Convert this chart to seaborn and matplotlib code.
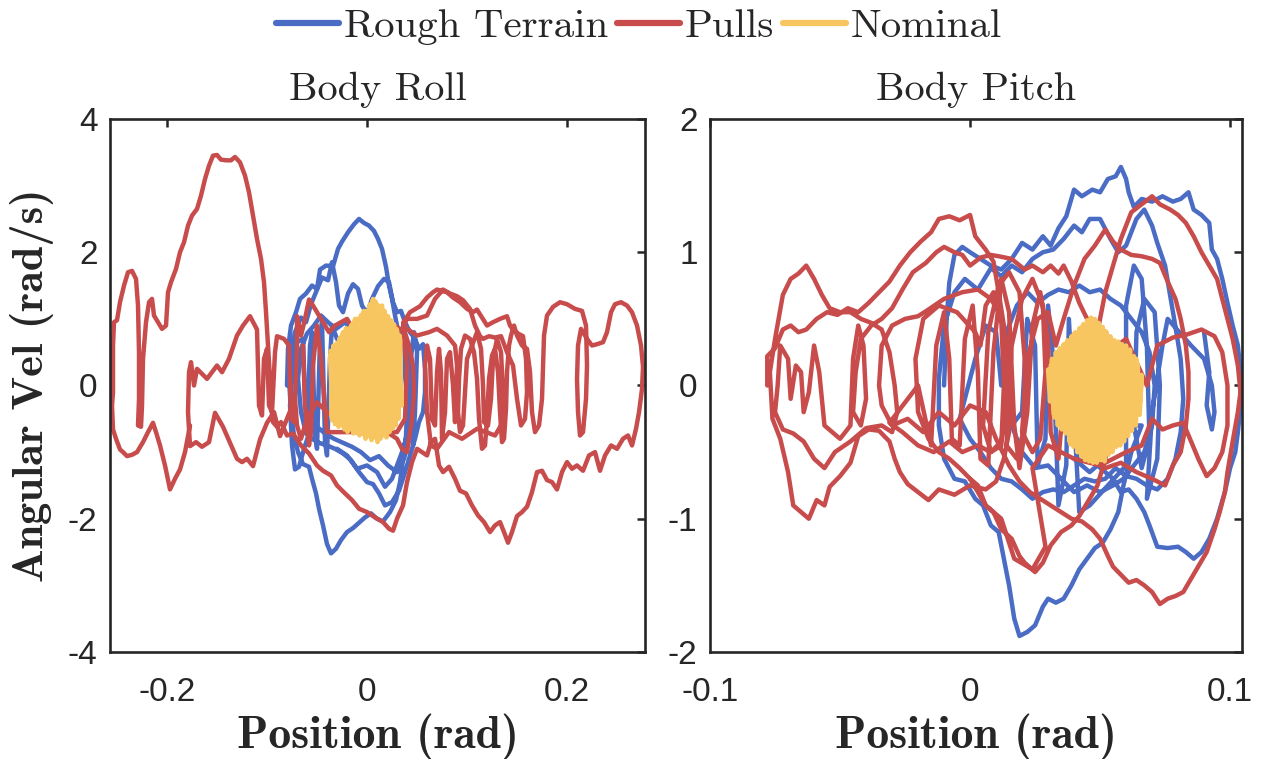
import matplotlib
matplotlib.use("Agg")
import pandas as pd
import matplotlib.pyplot as plt
import seaborn as sns
from matplotlib.lines import Line2D

SERIES = ["Rough Terrain", "Pulls", "Nominal"]
COLORS = ["#4a6cc4", "#c84c4c", "#f8c660"]

# ---- Body Roll: (position rad, angular vel rad/s) ----
roll_rough = [
    (-0.080, 0.00), (-0.079, 0.55), (-0.076, 0.90), (-0.071, 1.10), (-0.067, 1.30), (-0.061, 1.38),
    (-0.055, 1.50), (-0.050, 1.45), (-0.047, 1.74), (-0.041, 1.80), (-0.034, 1.79), (-0.029, 2.05),
    (-0.025, 2.16), (-0.019, 2.30), (-0.013, 2.42), (-0.008, 2.50), (-0.003, 2.44), (0.002, 2.40),
    (0.007, 2.32), (0.011, 2.20), (0.015, 2.05), (0.019, 1.78), (0.022, 1.50), (0.025, 1.30),
    (0.028, 1.05), (0.032, 0.75), (0.036, 0.40), (0.039, 0.00), (0.040, -0.40), (0.039, -0.75),
    (0.036, -1.10), (0.033, -1.45), (0.029, -1.72), (0.023, -1.90), (0.016, -2.04), (0.010, -2.00),
    (0.004, -1.92), (-0.002, -1.98), (-0.008, -2.06), (-0.014, -2.14), (-0.020, -2.20), (-0.026, -2.32),
    (-0.031, -2.45), (-0.036, -2.52), (-0.040, -2.38), (-0.044, -2.10), (-0.048, -1.85), (-0.051, -1.62),
    (-0.055, -1.40), (-0.058, -1.22), (-0.064, -1.18), (-0.069, -1.00), (-0.073, -0.75), (-0.076, -0.40),
    (-0.078, 0.10), (-0.076, 0.50), (-0.072, 0.80), (-0.066, 1.02), (-0.061, 0.95), (-0.056, 1.22),
    (-0.050, 1.44), (-0.045, 1.62), (-0.039, 1.58), (-0.035, 1.85), (-0.031, 1.55), (-0.028, 1.20),
    (-0.024, 1.10), (-0.019, 1.38), (-0.014, 1.52), (-0.009, 1.45), (-0.005, 1.20), (0.000, 1.08),
    (0.005, 1.30), (0.011, 1.49), (0.017, 1.60), (0.022, 1.55), (0.026, 1.25), (0.030, 1.10),
    (0.034, 1.12), (0.038, 0.95), (0.043, 0.80), (0.048, 0.70), (0.052, 0.55), (0.056, 0.62),
    (0.058, 0.25), (0.058, -0.10), (0.056, -0.40), (0.052, -0.55), (0.048, -0.80), (0.043, -1.05),
    (0.038, -1.30), (0.032, -1.58), (0.025, -1.75), (0.018, -1.80), (0.012, -1.62), (0.006, -1.48),
    (0.000, -1.45), (-0.008, -1.30), (-0.016, -1.12), (-0.024, -1.02), (-0.032, -0.95), (-0.040, -0.90),
    (-0.048, -0.86), (-0.055, -0.80), (-0.061, -0.72), (-0.066, -0.40), (-0.069, 0.10), (-0.066, 0.55),
    (-0.060, 0.78), (-0.053, 0.90), (-0.046, 1.05), (-0.039, 0.95), (-0.031, 0.85), (-0.022, 0.95),
    (-0.013, 0.80), (-0.004, 0.70), (0.006, 0.85), (0.016, 0.76), (0.026, 0.62), (0.035, 0.40),
    (0.042, 0.05), (0.045, -0.45), (0.042, -0.80), (0.037, -1.10), (0.030, -1.30), (0.021, -1.20),
    (0.012, -1.06), (0.003, -1.12), (-0.006, -1.00), (-0.015, -0.92), (-0.024, -0.86), (-0.033, -0.80),
    (-0.042, -0.72), (-0.050, -0.62), (-0.057, -0.68), (-0.063, -0.95), (-0.068, -1.22), (-0.072, -1.26),
    (-0.075, -0.90), (-0.077, -0.30), (-0.074, 0.30), (-0.070, 0.65), (-0.064, 0.70), (-0.062, -0.20),
    (-0.060, -0.70), (-0.057, 0.60), (-0.055, 0.80), (-0.052, -0.75), (-0.050, -0.95), (-0.047, 0.70),
    (-0.045, 0.95), (-0.042, -0.85), (-0.040, -1.05), (-0.037, 0.40), (-0.035, 0.90), (-0.030, 0.70),
    (0.034, 0.85), (0.040, 0.60), (0.044, -0.30), (0.046, -0.90), (0.048, -0.40), (0.050, 0.50),
    (0.047, 0.80), (0.043, 0.30), (0.041, -0.70), (0.035, -1.00), (0.025, -1.40), (0.018, -1.52),
    (0.010, -1.30), (0.000, -1.20), (-0.010, -1.25), (-0.020, -1.05), (-0.030, -0.95),
]

roll_pulls = [
    (-0.177, -0.60), (-0.182, -1.00), (-0.187, -1.26), (-0.192, -1.40), (-0.197, -1.56), (-0.202, -1.20),
    (-0.207, -0.90), (-0.211, -0.70), (-0.214, -0.56), (-0.219, -0.70), (-0.224, -0.85), (-0.230, -1.00),
    (-0.235, -1.04), (-0.240, -1.06), (-0.244, -1.00), (-0.247, -0.96), (-0.251, -0.80), (-0.254, -0.66),
    (-0.255, -0.30), (-0.254, -0.10), (-0.254, 0.60), (-0.253, 0.95), (-0.250, 0.98), (-0.247, 1.25),
    (-0.243, 1.50), (-0.239, 1.70), (-0.235, 1.72), (-0.231, 1.60), (-0.229, 1.20), (-0.228, 0.50),
    (-0.228, -0.20), (-0.229, -0.60), (-0.226, -0.62), (-0.225, -0.30), (-0.224, 0.40), (-0.221, 0.95),
    (-0.218, 1.25), (-0.215, 1.30), (-0.213, 1.05), (-0.209, 0.95), (-0.205, 0.85), (-0.201, 0.90),
    (-0.199, 1.40), (-0.196, 1.55), (-0.191, 1.75), (-0.187, 2.00), (-0.183, 2.15), (-0.179, 2.40),
    (-0.175, 2.55), (-0.170, 2.65), (-0.166, 2.85), (-0.162, 3.10), (-0.158, 3.30), (-0.154, 3.45),
    (-0.150, 3.46), (-0.146, 3.39), (-0.141, 3.38), (-0.136, 3.38), (-0.132, 3.43), (-0.127, 3.35),
    (-0.122, 3.15), (-0.118, 2.90), (-0.114, 2.55), (-0.110, 2.20), (-0.106, 1.90), (-0.103, 1.55),
    (-0.101, 1.10), (-0.099, 0.60), (-0.097, 0.10), (-0.096, -0.30), (-0.094, -0.55), (-0.090, -0.62),
    (-0.086, -0.55), (-0.080, -0.75), (-0.074, -0.72), (-0.066, -0.90), (-0.058, -1.02), (-0.050, -1.20),
    (-0.044, -1.28), (-0.036, -1.35), (-0.030, -1.50), (-0.022, -1.62), (-0.015, -1.72), (-0.008, -1.85),
    (0.000, -1.90), (0.008, -1.98), (0.016, -2.05), (0.022, -2.15), (0.026, -2.18), (0.030, -2.00),
    (0.036, -1.80), (0.040, -1.45), (0.045, -1.15), (0.050, -0.95), (0.055, -1.00), (0.060, -1.05),
    (0.064, -0.85), (0.068, -0.80), (0.072, -1.20), (0.076, -1.30), (0.082, -1.22), (0.088, -1.40),
    (0.093, -1.58), (0.099, -1.62), (0.105, -1.80), (0.111, -1.95), (0.117, -2.05), (0.123, -2.20),
    (0.128, -2.10), (0.133, -2.05), (0.137, -2.20), (0.141, -2.36), (0.145, -2.20), (0.150, -1.96),
    (0.155, -1.90), (0.160, -1.82), (0.165, -1.60), (0.170, -1.30), (0.175, -1.28), (0.180, -1.42),
    (0.185, -1.45), (0.190, -1.56), (0.195, -1.30), (0.200, -1.15), (0.205, -1.25), (0.210, -1.20),
    (0.216, -1.28), (0.222, -1.05), (0.228, -1.00), (0.233, -1.28), (0.238, -1.05), (0.244, -0.90),
    (0.250, -0.95), (0.256, -0.80), (0.261, -0.75), (0.265, -0.90), (0.269, -0.65), (0.272, -0.40),
    (0.275, -0.05), (0.276, 0.28), (0.274, 0.60), (0.270, 0.90), (0.265, 1.10), (0.260, 1.20),
    (0.254, 1.25), (0.248, 1.22), (0.244, 1.10), (0.240, 0.80), (0.236, 0.65), (0.230, 0.62),
    (0.225, 0.60), (0.220, 0.70), (0.214, 0.85), (0.211, 0.60), (0.210, 0.10), (0.211, -0.40),
    (0.213, -0.75), (0.216, -0.70), (0.219, -0.20), (0.220, 0.30), (0.219, 0.90), (0.215, 1.12),
    (0.208, 1.15), (0.200, 1.22), (0.193, 1.25), (0.186, 1.18), (0.180, 1.05), (0.177, 0.75),
    (0.176, 0.30), (0.175, -0.20), (0.172, -0.60), (0.168, -0.70), (0.165, -0.40), (0.163, 0.20),
    (0.160, 0.55), (0.155, 0.60), (0.150, 0.75), (0.147, 0.90), (0.144, 0.75), (0.142, 0.60),
    (0.140, 0.20), (0.139, -0.35), (0.137, -0.80), (0.135, -0.85), (0.133, -0.40), (0.131, 0.20),
    (0.128, 0.55), (0.125, 0.45), (0.122, 0.10), (0.120, -0.50), (0.118, -0.90), (0.115, -0.95),
    (0.112, -0.50), (0.110, 0.10), (0.107, 0.50), (0.103, 0.70), (0.098, 0.75), (0.094, 0.55),
    (0.092, 0.10), (0.091, -0.40), (0.093, -0.70), (0.096, -0.60), (0.098, -0.10), (0.100, 0.40),
    (0.105, 0.60), (0.110, 0.80), (0.114, 0.55), (0.116, 0.00), (0.117, -0.55), (0.121, -0.60),
    (0.124, -0.20), (0.126, 0.40), (0.130, 0.70), (0.134, 0.50), (0.136, -0.10), (0.134, -0.60),
    (0.128, -0.75), (0.110, -0.65), (0.095, -0.80), (0.082, -0.70), (0.070, -0.95), (0.064, -0.90),
    (0.060, -0.40), (0.058, 0.30), (0.060, 0.60), (0.063, 0.40), (0.065, -0.50), (0.068, -0.60),
    (0.070, 0.20), (0.072, 0.55), (0.074, 0.20), (0.075, -0.80), (0.078, -0.40), (0.080, 0.40),
    (0.083, 0.50), (0.086, 0.00), (0.088, -0.55), (0.090, 0.30), (0.088, 0.60), (0.080, 0.75),
    (0.070, 0.85), (0.062, 0.80), (0.050, 0.75), (0.040, 0.85), (0.036, 0.94), (0.043, 1.10),
    (0.053, 1.19), (0.060, 1.32), (0.066, 1.40), (0.070, 1.44), (0.075, 1.42), (0.080, 1.40),
    (0.086, 1.32), (0.093, 1.25), (0.100, 1.15), (0.106, 1.10), (0.110, 1.14), (0.115, 1.02),
    (0.120, 0.90), (0.126, 0.95), (0.133, 1.00), (0.140, 1.04), (0.143, 0.90), (0.146, 0.84),
    (0.151, 0.78), (0.156, 0.74), (0.159, 0.40), (0.160, -0.10), (0.158, -0.50), (0.154, -0.60),
    (0.150, -0.20), (0.146, 0.30), (0.140, 0.50), (0.134, 0.74), (0.128, 0.72), (0.122, 0.74),
    (0.116, 0.70), (0.113, 0.74), (0.108, 0.90), (0.103, 1.15), (0.096, 1.28), (0.090, 1.34),
    (0.083, 1.38), (0.076, 1.44), (0.068, 1.30), (0.060, 1.05), (0.050, 1.00), (0.040, 1.00),
    (0.036, 0.89), (0.042, 0.60), (0.046, 0.30), (0.047, -0.10), (0.045, -0.50), (0.042, -0.80),
    (0.040, -1.00), (0.035, -0.95), (0.030, -0.80), (0.020, -0.70), (0.010, -0.65), (0.000, -0.60),
    (-0.010, -0.50), (-0.020, -0.45), (-0.030, -0.50), (-0.040, -0.40), (-0.050, -0.25), (-0.060, -0.50),
    (-0.066, -0.80), (-0.070, -0.60), (-0.072, -0.20), (-0.080, -0.50), (-0.087, -0.76), (-0.093, -0.40),
    (-0.100, -0.56), (-0.107, -0.81), (-0.114, -1.21), (-0.120, -1.10), (-0.125, -1.15), (-0.130, -1.10),
    (-0.137, -0.86), (-0.144, -0.62), (-0.152, -0.41), (-0.158, -0.85), (-0.165, -0.92), (-0.171, -0.85),
    (-0.177, -0.91), (-0.179, -0.40), (-0.178, 0.20), (-0.176, 0.35), (-0.173, 0.00), (-0.170, 0.25),
    (-0.160, 0.10), (-0.150, 0.30), (-0.145, 0.20), (-0.138, 0.40), (-0.130, 0.75), (-0.124, 0.90),
    (-0.117, 1.04), (-0.110, 0.84), (-0.108, -0.30), (-0.105, -0.45), (-0.103, 0.40), (-0.100, 0.55),
    (-0.098, -0.30), (-0.095, -0.40), (-0.092, 0.50), (-0.090, 0.74), (-0.083, 0.70), (-0.078, 0.60),
    (-0.076, -0.50), (-0.073, -0.55), (-0.070, 0.55), (-0.070, 1.04), (-0.066, 0.75), (-0.062, 1.00),
    (-0.058, 1.29), (-0.054, 1.20), (-0.050, 1.10), (-0.044, 0.95), (-0.038, 0.80), (-0.032, 0.90),
    (-0.026, 0.95), (-0.020, 1.00), (-0.014, 0.85), (-0.008, 0.80), (0.000, 0.75), (0.008, 0.85),
    (0.016, 0.80), (0.024, 0.85), (0.030, 0.88), (0.036, 0.80), (0.040, 0.30), (0.038, -0.50),
    (0.030, -0.70), (-0.040, -0.70), (-0.046, 0.40), (-0.050, 0.90), (-0.054, 0.30), (-0.056, -0.70),
    (-0.058, -0.90), (-0.062, -0.30), (-0.064, 0.60),
]

roll_nominal = [
    (-0.0365, 0.52), (-0.0350, -0.52), (-0.0335, 0.60), (-0.0320, -0.58), (-0.0300, 0.64), (-0.0285, -0.62),
    (-0.0270, 0.72), (-0.0255, -0.60), (-0.0240, 0.80), (-0.0225, -0.66), (-0.0210, 0.86), (-0.0195, -0.70),
    (-0.0180, 0.86), (-0.0165, -0.66), (-0.0150, 0.92), (-0.0135, -0.72), (-0.0120, 1.00), (-0.0105, -0.70),
    (-0.0090, 0.98), (-0.0075, -0.75), (-0.0060, 1.06), (-0.0045, -0.72), (-0.0030, 1.12), (-0.0015, -0.80),
    (0.0000, 1.12), (0.0015, -0.76), (0.0030, 1.22), (0.0045, -0.82), (0.0060, 1.30), (0.0075, -0.78),
    (0.0090, 1.24), (0.0105, -0.85), (0.0120, 1.18), (0.0135, -0.80), (0.0150, 1.20), (0.0165, -0.75),
    (0.0180, 1.08), (0.0195, -0.78), (0.0210, 1.04), (0.0225, -0.70), (0.0240, 0.98), (0.0255, -0.65),
    (0.0270, 0.92), (0.0285, -0.60), (0.0300, 0.82), (0.0315, -0.50), (0.0330, 0.70), (0.0345, -0.30),
    (0.0325, 0.75), (0.0310, -0.45), (0.0295, 0.85), (0.0280, -0.55), (0.0265, 0.88), (0.0250, -0.62),
    (0.0235, 0.95), (0.0220, -0.66), (0.0205, 1.00), (0.0190, -0.72), (0.0175, 1.12), (0.0160, -0.70),
    (0.0145, 1.15), (0.0130, -0.78), (0.0115, 1.20), (0.0100, -0.80), (0.0085, 1.26), (0.0070, -0.74),
    (0.0055, 1.27), (0.0040, -0.78), (0.0025, 1.18), (0.0010, -0.72), (-0.0005, 1.08), (-0.0020, -0.76),
    (-0.0035, 1.10), (-0.0050, -0.70), (-0.0065, 1.02), (-0.0080, -0.72), (-0.0095, 1.00), (-0.0110, -0.66),
    (-0.0125, 0.96), (-0.0140, -0.68), (-0.0155, 0.90), (-0.0170, -0.62), (-0.0185, 0.84), (-0.0200, -0.64),
    (-0.0215, 0.82), (-0.0230, -0.60), (-0.0245, 0.76), (-0.0260, -0.56), (-0.0275, 0.70), (-0.0290, -0.58),
    (-0.0305, 0.62), (-0.0320, -0.54), (-0.0335, 0.56), (-0.0350, -0.48), (-0.0365, 0.46),
]

# ---- Body Pitch ----
pitch_rough = [
    (-0.010, 0.00), (-0.009, 0.50), (-0.008, 0.77), (-0.006, 0.98), (-0.003, 1.04), (0.000, 1.00),
    (0.004, 0.95), (0.008, 0.90), (0.012, 0.87), (0.016, 0.95), (0.020, 1.07), (0.024, 1.02),
    (0.028, 1.12), (0.031, 1.05), (0.034, 1.18), (0.037, 1.27), (0.040, 1.47), (0.043, 1.42),
    (0.047, 1.47), (0.050, 1.45), (0.053, 1.55), (0.056, 1.57), (0.058, 1.64), (0.060, 1.55),
    (0.061, 1.45), (0.063, 1.34), (0.066, 1.40), (0.070, 1.38), (0.074, 1.42), (0.078, 1.38),
    (0.081, 1.40), (0.084, 1.45), (0.086, 1.32), (0.089, 1.28), (0.092, 1.22), (0.093, 1.02),
    (0.095, 0.95), (0.097, 0.80), (0.099, 0.62), (0.101, 0.45), (0.103, 0.30), (0.104, 0.10),
    (0.104, -0.15), (0.103, -0.35), (0.102, -0.50), (0.100, -0.62), (0.098, -0.80), (0.095, -1.00),
    (0.092, -1.15), (0.089, -1.25), (0.086, -1.30), (0.083, -1.25), (0.080, -1.21), (0.076, -1.22),
    (0.072, -1.21), (0.069, -1.05), (0.067, -0.95), (0.064, -0.85), (0.061, -0.78), (0.058, -0.80),
    (0.055, -0.70), (0.052, -0.65), (0.049, -0.60), (0.046, -0.65), (0.043, -0.60), (0.040, -0.55),
    (0.052, -0.40), (0.060, -0.30), (0.066, -0.30), (0.062, -0.50), (0.059, -0.75), (0.057, -0.95),
    (0.054, -1.08), (0.051, -1.18), (0.048, -1.22), (0.045, -1.30), (0.042, -1.38), (0.039, -1.50),
    (0.036, -1.60), (0.033, -1.63), (0.030, -1.60), (0.028, -1.66), (0.025, -1.80), (0.022, -1.85),
    (0.019, -1.88), (0.017, -1.75), (0.015, -1.50), (0.013, -1.30), (0.011, -1.10), (0.008, -1.05),
    (0.005, -0.90), (0.002, -0.85), (-0.002, -0.72), (-0.006, -0.70), (-0.010, -0.55), (-0.012, -0.30),
    (-0.012, 0.05), (-0.010, 0.45), (-0.006, 0.70), (-0.002, 0.80), (0.003, 0.72), (0.008, 0.88),
    (0.012, 0.82), (0.016, 0.90), (0.020, 0.85), (0.024, 0.95), (0.028, 1.00), (0.032, 1.02),
    (0.036, 1.10), (0.040, 1.20), (0.043, 1.15), (0.046, 1.25), (0.050, 1.25), (0.054, 1.10),
    (0.057, 1.00), (0.060, 1.05), (0.064, 1.25), (0.067, 1.32), (0.070, 1.20), (0.072, 1.07),
    (0.075, 0.90), (0.077, 0.67), (0.079, 0.44), (0.081, 0.20), (0.082, -0.10), (0.081, -0.35),
    (0.079, -0.55), (0.076, -0.70), (0.072, -0.78), (0.068, -0.75), (0.064, -0.70), (0.060, -0.68),
    (0.056, -0.62), (0.052, -0.70), (0.048, -0.72), (0.044, -0.70), (0.040, -0.75), (0.036, -0.80),
    (0.032, -0.78), (0.028, -0.80), (0.024, -0.85), (0.020, -0.78), (0.016, -0.72), (0.012, -0.70),
    (0.008, -0.62), (0.004, -0.50), (0.000, -0.40), (-0.004, -0.25), (0.002, 0.20), (0.006, 0.45),
    (0.010, 0.40), (0.012, 0.00), (0.014, 0.40), (0.018, 0.60), (0.022, 0.70), (0.026, 0.62),
    (0.030, 0.68), (0.034, 0.72), (0.038, 0.70), (0.042, 0.75), (0.046, 0.70), (0.050, 0.72),
    (0.054, 0.65), (0.058, 0.60), (0.062, 0.50), (0.066, 0.40), (0.069, 0.25), (0.071, 0.00),
    (0.070, -0.30), (0.067, -0.50), (0.063, -0.60), (0.059, -0.70), (0.055, -0.75), (0.050, -0.80),
    (0.045, -0.75), (0.040, -0.80), (0.035, -0.70), (0.030, -0.60), (0.025, -0.62), (0.020, -0.50),
    (0.016, -0.30), (0.020, -0.20), (0.022, 0.50), (0.025, 0.30), (0.026, -0.60), (0.029, -0.40),
    (0.030, 0.60), (0.032, 0.20), (0.034, -0.90), (0.037, -0.60), (0.038, 0.50), (0.042, -0.95),
    (0.046, -0.90), (0.060, -0.60), (0.060, 0.60), (0.063, 0.90), (0.066, 0.80), (0.068, 0.30),
    (0.069, -0.40), (0.066, -0.62), (0.063, -0.30), (0.064, 0.40), (0.067, 0.65), (0.071, 0.55),
    (0.073, 0.00), (0.072, -0.55), (0.068, -0.85), (0.070, -0.20), (0.074, 0.30), (0.076, 0.50),
    (0.085, 0.30), (0.090, 0.20), (0.093, 0.00), (0.094, -0.20), (0.093, -0.33), (0.091, -0.15),
    (0.092, 0.10), (0.090, 0.40),
]

pitch_pulls = [
    (-0.078, 0.00), (-0.078, 0.22), (-0.075, 0.28), (-0.072, 0.42), (-0.069, 0.45), (-0.066, 0.40),
    (-0.063, 0.42), (-0.059, 0.50), (-0.055, 0.55), (-0.051, 0.53), (-0.047, 0.58), (-0.043, 0.55),
    (-0.039, 0.62), (-0.035, 0.70), (-0.031, 0.78), (-0.027, 0.90), (-0.023, 1.00), (-0.019, 1.08),
    (-0.015, 1.15), (-0.012, 1.25), (-0.008, 1.27), (-0.004, 1.24), (0.000, 1.28), (0.002, 1.12),
    (0.006, 1.02), (0.009, 0.93), (0.011, 0.70), (0.013, 0.45), (0.015, 0.20), (0.016, -0.10),
    (0.015, -0.35), (0.013, -0.55), (0.010, -0.72), (0.006, -0.78), (0.000, -0.75), (-0.006, -0.82),
    (-0.012, -0.78), (-0.016, -0.86), (-0.020, -0.80), (-0.024, -0.74), (-0.027, -0.65), (-0.029, -0.55),
    (-0.031, -0.42), (-0.035, -0.34), (-0.039, -0.33), (-0.043, -0.38), (-0.046, -0.58), (-0.050, -0.68),
    (-0.054, -0.76), (-0.056, -0.90), (-0.059, -0.86), (-0.062, -1.00), (-0.065, -0.95), (-0.068, -0.90),
    (-0.070, -0.65), (-0.073, -0.40), (-0.076, -0.25), (-0.077, 0.10), (-0.075, 0.35), (-0.072, 0.68),
    (-0.069, 0.80), (-0.066, 0.84), (-0.063, 0.90), (-0.060, 0.80), (-0.057, 0.68), (-0.054, 0.58),
    (-0.050, 0.55), (-0.046, 0.55), (-0.042, 0.50), (-0.038, 0.47), (-0.034, 0.42), (-0.031, 0.25),
    (-0.029, 0.00), (-0.028, -0.20), (-0.030, -0.35), (-0.034, -0.30), (-0.040, -0.32), (-0.046, -0.42),
    (-0.052, -0.50), (-0.056, -0.62), (-0.060, -0.55), (-0.064, -0.42), (-0.068, -0.36), (-0.072, -0.33),
    (-0.075, -0.20), (-0.074, 0.00), (-0.073, 0.30), (-0.070, 0.20), (-0.069, -0.10), (-0.067, 0.15),
    (-0.065, 0.10), (-0.064, -0.20), (-0.062, -0.05), (-0.060, 0.30), (-0.058, 0.10), (-0.056, -0.30),
    (-0.050, -0.40), (-0.046, -0.30), (-0.045, 0.20), (-0.043, 0.45), (-0.041, 0.30), (-0.040, -0.10),
    (-0.042, -0.30), (-0.045, -0.20), (-0.044, 0.10), (-0.042, 0.35), (-0.038, 0.45), (-0.034, 0.50),
    (-0.030, 0.58), (-0.026, 0.72), (-0.022, 0.85), (-0.017, 0.92), (-0.013, 1.00), (-0.010, 1.04),
    (-0.006, 1.00), (-0.003, 0.98), (0.000, 0.90), (0.004, 0.96), (0.008, 0.98), (0.011, 0.97),
    (0.016, 0.95), (0.021, 0.87), (0.024, 0.90), (0.028, 0.85), (0.031, 0.90), (0.034, 0.84),
    (0.036, 0.90), (0.039, 0.78), (0.042, 0.62), (0.045, 0.50), (0.048, 0.30), (0.052, 0.10),
    (0.054, -0.10), (0.054, -0.35), (0.052, -0.55), (0.049, -0.75), (0.046, -0.85), (0.042, -0.98),
    (0.039, -1.05), (0.035, -1.10), (0.031, -1.20), (0.028, -1.33), (0.025, -1.40), (0.021, -1.33),
    (0.019, -1.28), (0.016, -1.15), (0.012, -1.08), (0.009, -0.95), (0.006, -0.90), (0.003, -0.75),
    (0.000, -0.70), (-0.004, -0.62), (-0.008, -0.55), (-0.012, -0.50), (-0.016, -0.40), (-0.020, -0.20),
    (-0.021, 0.20), (-0.018, 0.50), (-0.012, 0.60), (-0.005, 0.55), (0.002, 0.40), (0.004, 0.30),
    (0.006, 0.60), (0.009, 0.70), (0.012, 0.50), (0.013, 0.00), (0.012, -0.45), (0.008, -0.50),
    (0.005, -0.30), (0.007, 0.40), (0.011, 0.75), (0.015, 0.85), (0.019, 0.70), (0.021, 0.20),
    (0.021, -0.30), (0.018, -0.55), (0.014, -0.45), (0.016, 0.30), (0.020, 0.65), (0.024, 0.80),
    (0.028, 0.60), (0.029, 0.10), (0.027, -0.40), (0.024, -0.50), (0.020, -0.35), (0.022, 0.20),
    (0.026, 0.50), (0.030, 0.55), (0.033, 0.30), (0.036, 0.50), (0.040, 0.75), (0.044, 0.95),
    (0.048, 1.05), (0.052, 1.17), (0.055, 1.08), (0.058, 1.02), (0.062, 0.98), (0.066, 0.97),
    (0.070, 0.95), (0.073, 0.92), (0.076, 0.78), (0.079, 0.65), (0.081, 0.50), (0.083, 0.30),
    (0.084, 0.10), (0.084, -0.10), (0.083, -0.30), (0.081, -0.50), (0.078, -0.60), (0.075, -0.75),
    (0.070, -0.70), (0.064, -0.65), (0.058, -0.58), (0.052, -0.62), (0.048, -0.50), (0.046, 0.00),
    (0.048, 0.30), (0.052, 0.70), (0.055, 0.90), (0.058, 1.10), (0.062, 1.30), (0.066, 1.36),
    (0.070, 1.42), (0.073, 1.36), (0.077, 1.32), (0.080, 1.28), (0.083, 1.22), (0.086, 1.12),
    (0.089, 1.00), (0.092, 0.90), (0.095, 0.80), (0.097, 0.65), (0.099, 0.50), (0.101, 0.35),
    (0.103, 0.15), (0.104, -0.05), (0.103, -0.20), (0.101, -0.42), (0.099, -0.65), (0.098, -0.80),
    (0.096, -0.95), (0.094, -1.08), (0.091, -1.25), (0.088, -1.35), (0.085, -1.45), (0.082, -1.55),
    (0.079, -1.58), (0.076, -1.60), (0.073, -1.64), (0.070, -1.55), (0.067, -1.50), (0.064, -1.46),
    (0.061, -1.48), (0.058, -1.42), (0.055, -1.36), (0.053, -1.28), (0.050, -1.15), (0.047, -1.08),
    (0.043, -1.02), (0.039, -1.00), (0.035, -0.95), (0.031, -0.90), (0.027, -0.85), (0.023, -0.80),
    (0.019, -0.72), (0.015, -0.60), (0.010, -0.40), (0.006, -0.20), (0.000, -0.15), (-0.006, -0.30),
    (-0.012, -0.20), (-0.018, -0.35), (-0.024, -0.25), (-0.030, -0.30), (-0.034, -0.15), (-0.035, 0.00),
    (-0.034, 0.30), (-0.030, 0.45), (-0.025, 0.50), (-0.020, 0.52), (-0.016, 0.57), (-0.010, 0.65),
    (-0.003, 0.70), (0.003, 0.72), (0.008, 0.65), (0.012, 0.52), (0.014, 0.20), (0.014, -0.20),
    (0.012, -0.42), (0.008, -0.50), (0.003, -0.45), (-0.003, -0.50), (-0.008, -0.42), (-0.014, -0.50),
    (-0.020, -0.45), (-0.026, -0.35), (-0.031, -0.28), (-0.020, 0.00), (-0.015, -0.45), (-0.013, 0.30),
    (-0.010, 0.55), (-0.008, 0.20), (-0.007, -0.40), (-0.004, -0.45), (-0.002, 0.35), (0.001, 0.60),
    (0.003, 0.10), (0.004, -0.55), (0.007, -0.60), (0.009, 0.25), (0.012, 0.80), (0.015, 0.55),
    (0.017, -0.30), (0.019, -0.62), (0.022, -0.20), (0.024, 0.45), (0.027, 0.70), (0.030, 0.35),
    (0.031, -0.35), (0.034, -0.55), (0.036, -0.10), (0.040, 0.30), (0.050, 0.20), (0.060, 0.35),
    (0.068, 0.00), (0.072, 0.30), (0.078, 0.36), (0.083, 0.38), (0.089, 0.42), (0.094, 0.37),
    (0.097, 0.25), (0.099, 0.00), (0.099, -0.30), (0.097, -0.50), (0.094, -0.62), (0.091, -0.68),
    (0.088, -0.56), (0.085, -0.42), (0.082, -0.28), (0.078, -0.30), (0.074, -0.33), (0.070, -0.25),
    (0.066, -0.45), (0.060, -0.50), (0.050, -0.60), (0.040, -0.55), (0.030, -0.45), (0.024, -0.62),
    (0.029, -1.21), (0.024, -1.38), (0.017, -1.30), (0.012, -1.00), (0.006, -0.90), (0.000, -0.70),
]

pitch_nominal = [
    (0.03000, 0.12), (0.03075, -0.12), (0.03150, 0.20), (0.03225, -0.22), (0.03300, 0.25), (0.03375, -0.30),
    (0.03450, 0.28), (0.03525, -0.33), (0.03600, 0.31), (0.03675, -0.36), (0.03750, 0.34), (0.03825, -0.42),
    (0.03900, 0.37), (0.03975, -0.46), (0.04050, 0.40), (0.04125, -0.50), (0.04200, 0.43), (0.04275, -0.53),
    (0.04350, 0.46), (0.04425, -0.56), (0.04500, 0.49), (0.04575, -0.57), (0.04650, 0.51), (0.04725, -0.58),
    (0.04800, 0.50), (0.04875, -0.58), (0.04950, 0.47), (0.05025, -0.56), (0.05100, 0.44), (0.05175, -0.57),
    (0.05250, 0.40), (0.05325, -0.52), (0.05400, 0.37), (0.05475, -0.50), (0.05550, 0.34), (0.05625, -0.46),
    (0.05700, 0.33), (0.05775, -0.45), (0.05850, 0.31), (0.05925, -0.42), (0.06000, 0.30), (0.06075, -0.38),
    (0.06150, 0.27), (0.06225, -0.34), (0.06300, 0.22), (0.06375, -0.30), (0.06450, 0.16), (0.06525, -0.22),
    (0.06600, 0.08), (0.06550, -0.12), (0.06400, 0.20), (0.06250, -0.28), (0.06100, 0.26), (0.05950, -0.36),
    (0.05800, 0.29), (0.05650, -0.42), (0.05500, 0.33), (0.05350, -0.48), (0.05200, 0.41), (0.05050, -0.54),
    (0.04900, 0.47), (0.04750, -0.55), (0.04600, 0.49), (0.04450, -0.54), (0.04300, 0.44), (0.04150, -0.50),
    (0.04000, 0.39), (0.03850, -0.44), (0.03700, 0.32), (0.03550, -0.32), (0.03400, 0.25), (0.03250, -0.24),
    (0.03100, 0.15),
]


def to_frame(rough, pulls, nominal):
    rows = []
    for name, pts in zip(SERIES, (rough, pulls, nominal)):
        for step, (pos, vel) in enumerate(pts):
            rows.append((name, step, pos, vel))
    return pd.DataFrame(rows, columns=["series", "step", "pos", "vel"])


sns.set_theme(style="white")
plt.rcParams["font.family"] = ["Liberation Sans", "DejaVu Sans"]
plt.rcParams["axes.unicode_minus"] = False
plt.rcParams["axes.edgecolor"] = "#262626"
plt.rcParams["axes.linewidth"] = 1.9

SERIF = "cmr10"
SERIF_BOLD = "cmb10"

fig = plt.figure(figsize=(12.63, 7.59), dpi=100)
ax1 = fig.add_axes([0.0871, 0.1410, 0.4236, 0.7022])
ax2 = fig.add_axes([0.5622, 0.1410, 0.4212, 0.7022])

panels = [
    (ax1, to_frame(roll_rough, roll_pulls, roll_nominal), "Body Roll",
     (-0.257, 0.278), (-4, 4), [-0.2, 0, 0.2], [-4, -2, 0, 2, 4]),
    (ax2, to_frame(pitch_rough, pitch_pulls, pitch_nominal), "Body Pitch",
     (-0.1, 0.1046), (-2, 2), [-0.1, 0, 0.1], [-2, -1, 0, 1, 2]),
]

for ax, df, title, xlim, ylim, xt, yt in panels:
    sns.lineplot(data=df, x="pos", y="vel", hue="series", hue_order=SERIES,
                 palette=COLORS, sort=False, estimator=None, lw=3.2,
                 legend=False, ax=ax)
    ax.set_xlim(*xlim)
    ax.set_ylim(*ylim)
    ax.set_xticks(xt)
    ax.set_yticks(yt)
    ax.set_xticklabels([f"{v:g}" for v in xt])
    ax.set_yticklabels([f"{v:g}" for v in yt])
    ax.tick_params(direction="in", top=True, right=True, length=6, width=1.8,
                   labelsize=24, colors="#262626")
    ax.tick_params(axis="x", pad=18)
    ax.tick_params(axis="y", pad=9)
    ax.set_title(title, fontfamily=SERIF, fontsize=29, pad=14)
    ax.set_xlabel("Position (rad)", fontfamily=SERIF_BOLD, fontsize=33, labelpad=4)
    ax.set_ylabel("")
    for sp in ax.spines.values():
        sp.set_visible(True)

ax1.set_ylabel("Angular Vel (rad/s)", fontfamily=SERIF_BOLD, fontsize=32, labelpad=10)

handles = [Line2D([0], [0], color=c, lw=4.5) for c in COLORS]
fig.legend(handles, SERIES, loc="upper center", bbox_to_anchor=(0.506, 1.01), ncol=3,
           frameon=False, prop={"family": SERIF, "size": 29.5}, handlelength=1.55,
           handletextpad=0.12, columnspacing=0.2, borderaxespad=0.0)

fig.savefig("out.png", dpi=100)
